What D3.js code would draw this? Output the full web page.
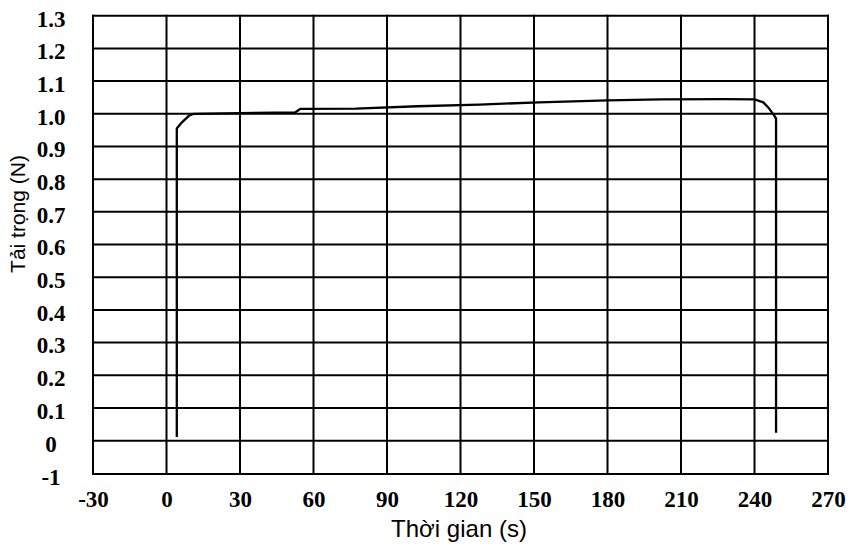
<!DOCTYPE html>
<html>
<head>
<meta charset="utf-8">
<script src="https://cdn.jsdelivr.net/npm/d3@7"></script>
<style>
  html, body { margin: 0; padding: 0; background: #fff; }
  svg { display: block; }
</style>
</head>
<body>
<svg id="chart" width="853" height="547"></svg>
<script>
// ---- data ----
const xTicks = [-30, 0, 30, 60, 90, 120, 150, 180, 210, 240, 270];
const xTickLabels = ["-30", "0", "30", "60", "90", "120", "150", "180", "210", "240", "270"];
const yTicks = [-1, 0, 0.1, 0.2, 0.3, 0.4, 0.5, 0.6, 0.7, 0.8, 0.9, 1.0, 1.1, 1.2, 1.3];
const yTickLabels = ["-1", "0", "0.1", "0.2", "0.3", "0.4", "0.5", "0.6", "0.7", "0.8", "0.9", "1.0", "1.1", "1.2", "1.3"];
const timeS = [4.2, 4.2, 6.2, 9.0, 11.1, 30, 52.5, 54.6, 77.3, 102.5, 127.7, 152, 180, 202, 227.5, 240, 243.6, 246, 248, 248.8, 248.8];
const loadN = [0.011, 0.955, 0.973, 0.993, 1.0, 1.002, 1.004, 1.015, 1.016, 1.023, 1.028, 1.035, 1.041, 1.044, 1.045, 1.044, 1.035, 1.016, 0.995, 0.985, 0.024];
const xTitle = "Thời gian (s)";
const yTitle = "Tải trọng (N)";

// ---- drawing ----
const svg = d3.select("#chart");
const x = d3.scaleLinear().domain([-30, 270]).range([93, 828]);
const y = d3.scaleLinear().domain([-1, 0, 1.3]).range([474, 440.7, 15.7]);

const grid = svg.append("g").attr("stroke", "#000").attr("stroke-width", 2);
grid.selectAll("line.v").data(xTicks).join("line")
  .attr("class", "v")
  .attr("x1", d => x(d)).attr("x2", d => x(d))
  .attr("y1", y(1.3) - 1).attr("y2", y(-1) + 1);
grid.selectAll("line.h").data(yTicks).join("line")
  .attr("class", "h")
  .attr("x1", x(-30) - 1).attr("x2", x(270) + 1)
  .attr("y1", d => y(d)).attr("y2", d => y(d));

// curve
const pts = timeS.map((t, i) => [t, loadN[i]]);
svg.append("path")
  .datum(pts)
  .attr("fill", "none")
  .attr("stroke", "#000")
  .attr("stroke-width", 2.3)
  .attr("stroke-linejoin", "round")
  .attr("d", d3.line().x(d => x(d[0])).y(d => y(d[1])).curve(d3.curveLinear));

// x axis labels
const xAxis = d3.axisBottom(x).tickValues(xTicks).tickSize(0).tickPadding(0)
  .tickFormat((d, i) => xTickLabels[i]);
const gx = svg.append("g").attr("transform", "translate(0,507)").call(xAxis);
gx.select(".domain").remove();
gx.selectAll("text")
  .attr("dy", 0).attr("y", 0)
  .attr("font-family", "'Liberation Serif', 'Times New Roman', serif")
  .attr("font-weight", "bold").attr("font-size", 23).attr("fill", "#000");

// y axis labels (centered)
const yAxis = d3.axisLeft(y).tickValues(yTicks).tickSize(0).tickPadding(0)
  .tickFormat((d, i) => yTickLabels[i]);
const gy = svg.append("g").attr("transform", "translate(51,0)").call(yAxis);
gy.select(".domain").remove();
gy.selectAll("text")
  .attr("x", 0).attr("dy", "0.45em")
  .attr("text-anchor", "middle")
  .attr("font-family", "'Liberation Serif', 'Times New Roman', serif")
  .attr("font-weight", "bold").attr("font-size", 23).attr("fill", "#000");

// titles
svg.append("text")
  .attr("x", 459).attr("y", 537)
  .attr("text-anchor", "middle")
  .attr("font-family", "'Liberation Sans', Arial, sans-serif")
  .attr("font-size", 24).attr("fill", "#000")
  .text(xTitle);

svg.append("text")
  .attr("transform", "translate(25,214) rotate(-90)")
  .attr("text-anchor", "middle")
  .attr("font-family", "'Liberation Sans', Arial, sans-serif")
  .attr("font-size", 21).attr("fill", "#000")
  .text(yTitle);
</script>
</body>
</html>
